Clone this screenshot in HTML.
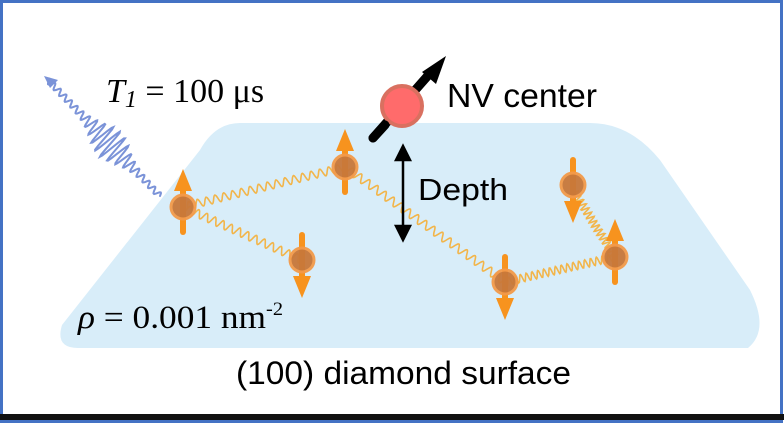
<!DOCTYPE html>
<html><head><meta charset="utf-8"><style>
html,body{margin:0;padding:0;background:#fff;}
svg{display:block}
</style></head><body>
<svg id="s" width="784" height="424" viewBox="0 0 784 424" xmlns="http://www.w3.org/2000/svg">
<rect x="0" y="0" width="784" height="424" fill="#fff"/>
<rect x="1.5" y="1.5" width="780" height="420" fill="none" stroke="#4472c4" stroke-width="3"/>
<rect x="0" y="414" width="784" height="6" fill="#111"/>
<path d="M240,123 L590,123 Q630,123 660,160 L750,290 Q770,330 748,348 L78,348 Q55,348 62,325 L200,150 Q215,123 240,123 Z" fill="#d8edf9"/>
<g id="waves" fill="none" stroke-linecap="round"></g>
<g stroke="#000" stroke-width="2.5" fill="#000">
<line x1="403" y1="153" x2="403" y2="232"/>
<path d="M396,160 L403,146 L410,160 Z"/>
<path d="M396,226 L403,240 L410,226 Z"/>
</g>
<g id="spins"></g>
<line x1="373" y1="138" x2="432" y2="71" stroke="#000" stroke-width="9" stroke-linecap="round"/>
<path d="M422,72 L446,56 L436,84 Z" fill="#000"/>
<circle cx="402" cy="106" r="20" fill="#ff6b6b" stroke="#d97060" stroke-width="4"/>
<line x1="373" y1="138" x2="385" y2="125" stroke="#000" stroke-width="9" stroke-linecap="round"/>
<text x="447" y="107" font-family="Liberation Sans, sans-serif" font-size="33" textLength="150" lengthAdjust="spacingAndGlyphs">NV center</text>
<text x="418" y="200" font-family="Liberation Sans, sans-serif" font-size="31" textLength="90" lengthAdjust="spacingAndGlyphs">Depth</text>
<text x="236" y="384" font-family="Liberation Sans, sans-serif" font-size="32" textLength="335" lengthAdjust="spacingAndGlyphs">(100) diamond surface</text>
<text x="106" y="102" font-family="Liberation Serif, serif" font-size="34"><tspan font-style="italic">T</tspan><tspan font-style="italic" font-size="24" dy="5">1</tspan><tspan dy="-5"> = 100 μs</tspan></text>
<text x="78" y="328" font-family="Liberation Serif, serif" font-size="33" textLength="205" lengthAdjust="spacingAndGlyphs"><tspan font-style="italic">ρ</tspan> = 0.001 nm<tspan font-size="19" dy="-13">-2</tspan></text>
</svg>
<script>
var NS="http://www.w3.org/2000/svg";
function wave(x1,y1,x2,y2,amp,wl,color,w,env){
 var dx=x2-x1,dy=y2-y1,L=Math.hypot(dx,dy),ux=dx/L,uy=dy/L,nx=-uy,ny=ux,d="";
 for(var t=0;t<=L;t+=0.7){
  var a=amp; if(env){a=env(t/L);}
  var o=a*Math.sin(2*Math.PI*t/wl);
  var x=x1+ux*t+nx*o,y=y1+uy*t+ny*o;
  d+=(t==0?"M":"L")+x.toFixed(1)+","+y.toFixed(1);
 }
 var p=document.createElementNS(NS,"path");
 p.setAttribute("d",d);p.setAttribute("stroke",color);p.setAttribute("stroke-width",w);
 document.getElementById("waves").appendChild(p);
}
var og="#f2b54a";
wave(183,207,345,167,4,9,og,1.6);
wave(183,207,302,260,4,9,og,1.6);
wave(345,167,505,282,4,10,og,1.6);
wave(505,282,615,257,4,6,og,1.6);
wave(573,190,615,257,4,5,og,1.6);
wave(160,196,48,80,3,8,"#7b93d8",2,function(f){return 3+13*Math.exp(-Math.pow((f-0.45)/0.15,2));});
var b=document.getElementById("waves");
var ah=document.createElementNS(NS,"path");
ah.setAttribute("d","M44,76 L58,80 L50,88 Z");ah.setAttribute("fill","#7b93d8");b.appendChild(ah);
function spin(cx,cy,up){
 var g=document.getElementById("spins"),s=up?-1:1;
 var h='<line x1="'+cx+'" y1="'+(cy-s*25)+'" x2="'+cx+'" y2="'+(cy+s*16)+'" stroke="#f7931e" stroke-width="6" stroke-linecap="round"/>'+
 '<path d="M'+(cx-9)+','+(cy+s*16)+' L'+cx+','+(cy+s*38)+' L'+(cx+9)+','+(cy+s*16)+' Z" fill="#f7931e"/>'+
 '<circle cx="'+cx+'" cy="'+cy+'" r="12" fill="#c8783a" stroke="#f39a4a" stroke-width="3" opacity="0.95"/>';
 g.insertAdjacentHTML("beforeend",h);
}
spin(183,207,true);spin(345,167,true);spin(302,260,false);spin(505,282,false);spin(573,185,false);spin(615,257,true);
</script>
</body></html>
